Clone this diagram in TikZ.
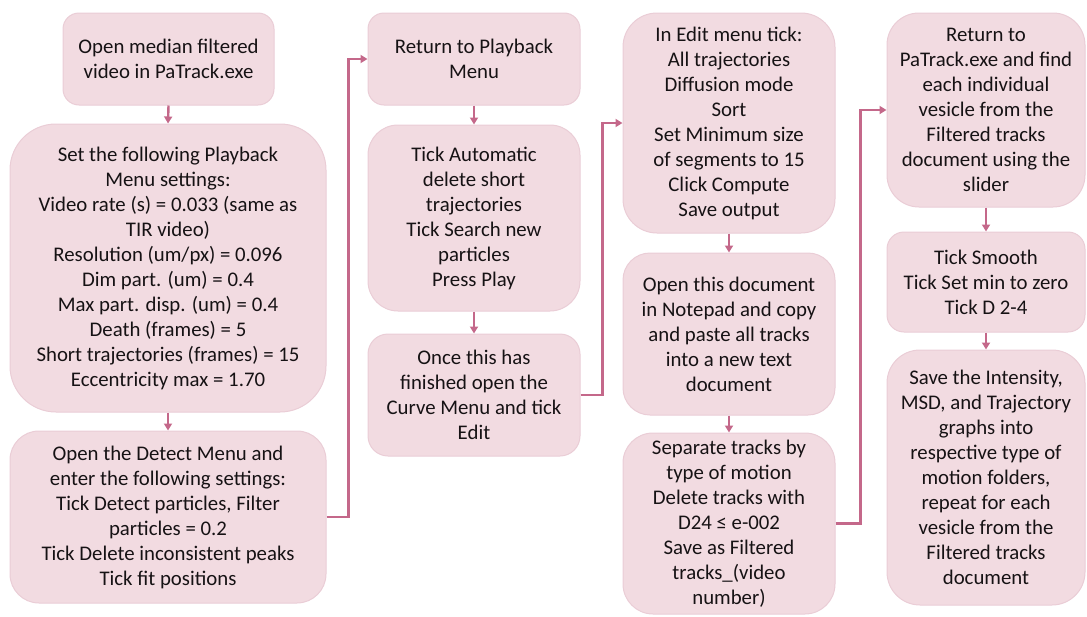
\documentclass[tikz,border=0pt]{standalone}
\usepackage{fontspec}
\setmainfont{Carlito}
\usetikzlibrary{arrows.meta}
\definecolor{boxfill}{RGB}{242,219,225}
\definecolor{boxline}{RGB}{234,205,214}
\definecolor{arrowcol}{RGB}{196,104,138}
\definecolor{txt}{RGB}{22,18,20}
\begin{document}
\begin{tikzpicture}[x=1pt,y=-1pt,
  stepbox/.style={draw=boxline, line width=1pt, fill=boxfill, align=center, inner sep=0pt,
    text=txt, font=\fontsize{20.8}{25}\selectfont},
  flow/.style={draw=arrowcol, line width=2.4pt, -{Triangle[length=7pt,width=8pt]}}]
\useasboundingbox (0,0) rectangle (1087,616);
% column 1
\node[stepbox, rounded corners=16pt, minimum width=211pt, minimum height=92pt] (b1) at (168.5,59)
  {Open median filtered\\video in PaTrack.exe};
\node[stepbox, rounded corners=46pt, minimum width=316pt, minimum height=288pt] (b2) at (168,268)
  {Set the following Playback\\Menu settings:\\Video rate (s) = 0.033 (same as\\TIR video)\\Resolution (um/px) = 0.096\\Dim part. (um) = 0.4\\Max part. disp. (um) = 0.4\\Death (frames) = 5\\Short trajectories (frames) = 15\\Eccentricity max = 1.70};
\node[stepbox, rounded corners=29pt, minimum width=316pt, minimum height=172pt] (b3) at (168,517)
  {Open the Detect Menu and\\enter the following settings:\\Tick Detect particles, Filter\\particles = 0.2\\Tick Delete inconsistent peaks\\Tick fit positions};
% column 2
\node[stepbox, rounded corners=16pt, minimum width=212pt, minimum height=92pt] (b4) at (474,59)
  {Return to Playback\\Menu};
\node[stepbox, rounded corners=30pt, minimum width=212pt, minimum height=186pt] (b5) at (474,218)
  {Tick Automatic\\delete short\\trajectories\\Tick Search new\\particles\\Press Play};
\node[stepbox, rounded corners=20pt, minimum width=212pt, minimum height=122pt] (b6) at (474,395)
  {Once this has\\finished open the\\Curve Menu and tick\\Edit};
% column 3
\node[stepbox, rounded corners=34pt, minimum width=212pt, minimum height=220pt] (b7) at (729,123)
  {In Edit menu tick:\\All trajectories\\Diffusion mode\\Sort\\Set Minimum size\\of segments to 15\\Click Compute\\Save output};
\node[stepbox, rounded corners=27pt, minimum width=212pt, minimum height=162pt] (b8) at (729,334)
  {Open this document\\in Notepad and copy\\and paste all tracks\\into a new text\\document};
\node[stepbox, rounded corners=30pt, minimum width=212pt, minimum height=181pt] (b9) at (729,523.5)
  {Separate tracks by\\type of motion\\Delete tracks with\\D24 ≤ e-002\\Save as Filtered\\tracks\_(video\\number)};
% column 4
\node[stepbox, rounded corners=32pt, minimum width=198pt, minimum height=194pt] (b10) at (986,110)
  {Return to\\PaTrack.exe and find\\each individual\\vesicle from the\\Filtered tracks\\document using the\\slider};
\node[stepbox, rounded corners=17pt, minimum width=198pt, minimum height=100pt] (b11) at (986,282)
  {Tick Smooth\\Tick Set min to zero\\Tick D 2-4};
\node[stepbox, rounded corners=33pt, minimum width=198pt, minimum height=255pt] (b12) at (986,477.5)
  {Save the Intensity,\\MSD, and Trajectory\\graphs into\\respective type of\\motion folders,\\repeat for each\\vesicle from the\\Filtered tracks\\document};
% connectors
\draw[flow] (b1.south) -- (b2.north);
\draw[flow] (b2.south) -- (b3.north);
\draw[flow] (b4.south) -- (b5.north);
\draw[flow] (b5.south) -- (b6.north);
\draw[flow] (b7.south) -- (b8.north);
\draw[flow] (b8.south) -- (b9.north);
\draw[flow] (b10.south) -- (b11.north);
\draw[flow] (b11.south) -- (b12.north);
\draw[flow] (b3.east) -- ++(22,0) |- (b4.west);
\draw[flow] (b6.east) -- ++(22,0) |- (b7.west);
\draw[flow] (b9.east) -- ++(25,0) |- (b10.west);
\end{tikzpicture}
\end{document}
